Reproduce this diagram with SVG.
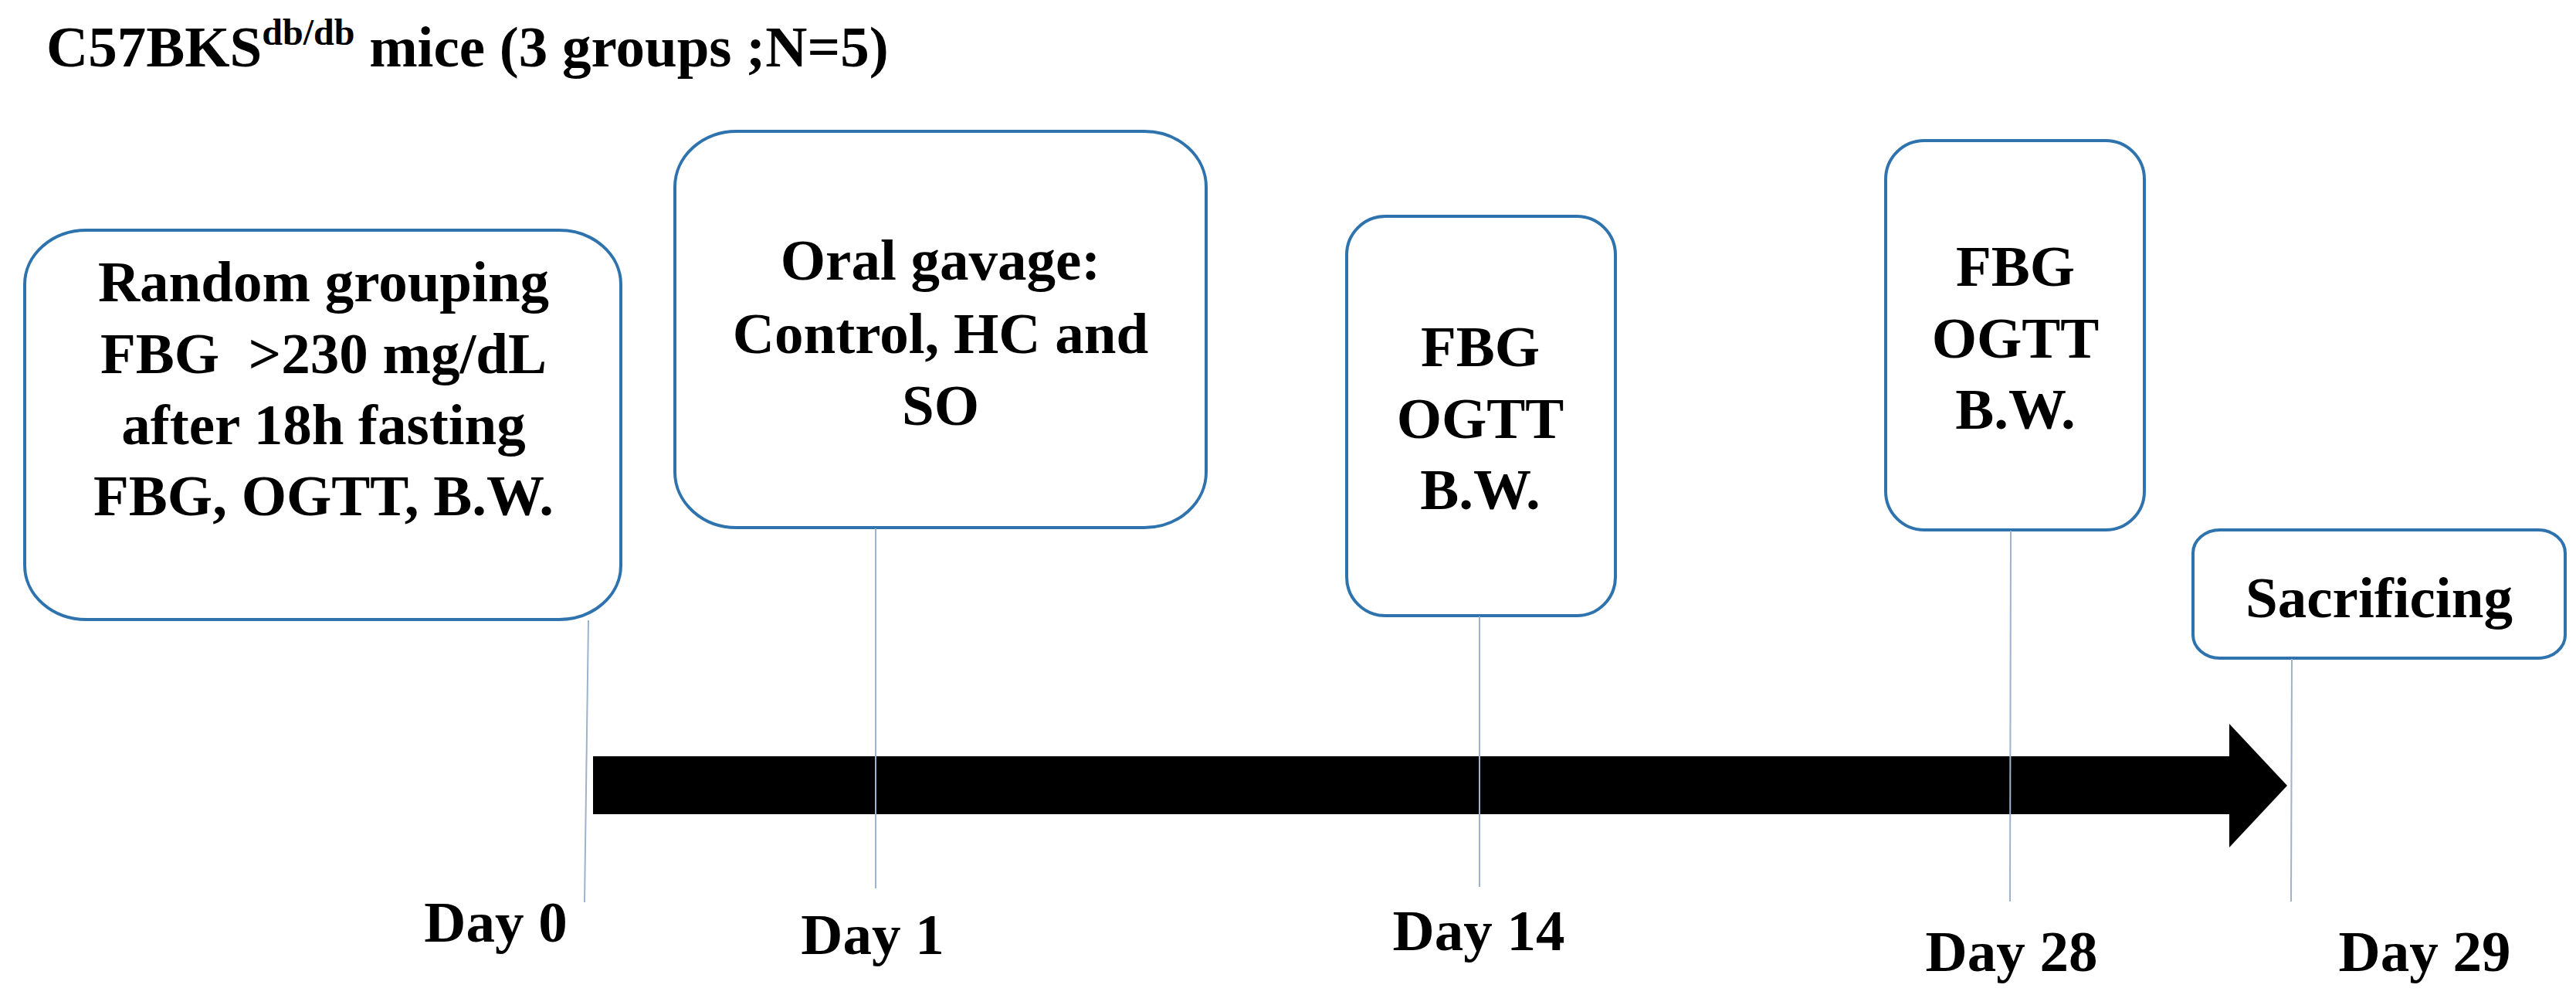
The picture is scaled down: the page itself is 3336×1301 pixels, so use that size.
<svg xmlns="http://www.w3.org/2000/svg" width="3336" height="1301" viewBox="0 0 3336 1301">
<style>
.t{font-family:"Liberation Serif","Times New Roman",serif;font-weight:bold;font-size:75px;fill:#000;text-anchor:middle;white-space:pre}
.box{fill:#fff;stroke:#2f73ae;stroke-width:4}
.tick{stroke:#9cb2cd;stroke-width:2;fill:none}
</style>
<rect width="3336" height="1301" fill="#fff"/>
<text x="60" y="86" class="t" style="text-anchor:start">C57BKS<tspan font-size="48" dy="-28">db/db</tspan><tspan dy="28"> mice (3 groups ;N=5)</tspan></text>
<g id="timeline">
<polygon points="768,979 2887,979 2887,937 2962,1017 2887,1097 2887,1054 768,1054" fill="#000"/>
</g>
<g id="node-day0">
<rect class="box" x="32" y="298" width="772" height="504" rx="80" ry="70"/>
<text class="t" x="419" y="390">Random grouping</text>
<text class="t" x="419" y="483">FBG&#160; &gt;230 mg/dL</text>
<text class="t" x="419" y="575">after 18h fasting</text>
<text class="t" x="419" y="667">FBG, OGTT, B.W.</text>
</g>
<g id="node-day1">
<rect class="box" x="874" y="170" width="688" height="513" rx="80" ry="72"/>
<text class="t" x="1218" y="362">Oral gavage:</text>
<text class="t" x="1218" y="457">Control, HC and</text>
<text class="t" x="1218" y="550">SO</text>
</g>
<g id="node-day14">
<rect class="box" x="1744" y="280" width="348" height="517" rx="50" ry="50"/>
<text class="t" x="1917" y="474">FBG</text>
<text class="t" x="1917" y="567">OGTT</text>
<text class="t" x="1917" y="659">B.W.</text>
</g>
<g id="node-day28">
<rect class="box" x="2442" y="182" width="335" height="504" rx="50" ry="50"/>
<text class="t" x="2610" y="370">FBG</text>
<text class="t" x="2610" y="463">OGTT</text>
<text class="t" x="2610" y="555">B.W.</text>
</g>
<g id="node-day29">
<rect class="box" x="2840" y="686" width="482" height="166" rx="35" ry="30"/>
<text class="t" x="3081" y="799">Sacrificing</text>
</g>
<g id="connectors">
<line class="tick" x1="762" y1="803" x2="757" y2="1168"/>
<line class="tick" x1="1134" y1="684" x2="1134" y2="1150"/>
<line class="tick" x1="1916" y1="798" x2="1916" y2="1148"/>
<line class="tick" x1="2604" y1="687" x2="2603" y2="1167"/>
<line class="tick" x1="2968" y1="853" x2="2967" y2="1167"/>
</g>
<g id="labels">
<text class="t" x="642" y="1219">Day 0</text>
<text class="t" x="1130" y="1235">Day 1</text>
<text class="t" x="1915" y="1230">Day 14</text>
<text class="t" x="2605" y="1257">Day 28</text>
<text class="t" x="3140" y="1257">Day 29</text>
</g>
</svg>
